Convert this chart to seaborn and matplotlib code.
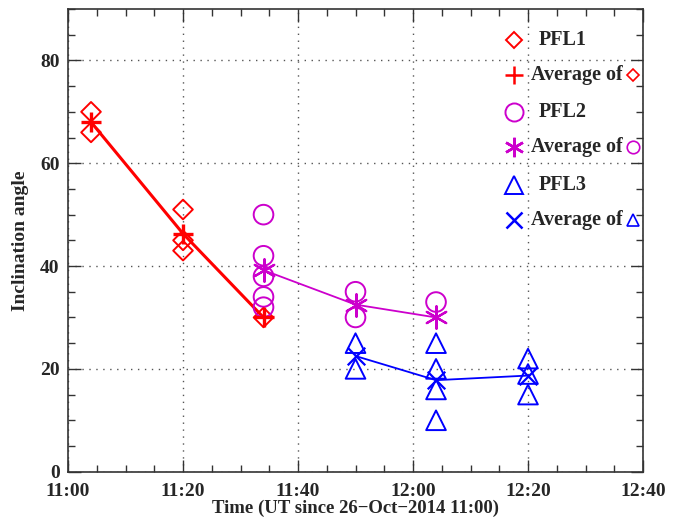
import numpy as np
import pandas as pd
import matplotlib
matplotlib.use("Agg")
import matplotlib.pyplot as plt
from matplotlib.ticker import MultipleLocator, FixedLocator, FixedFormatter
import seaborn as sns

# minutes since 11:00 UT
pfl1_t = [4, 4, 20, 20, 20, 34]
pfl1_v = [70, 66, 51, 45, 43, 30]
avg1_t = [4, 20, 34]
avg1_v = [68, 46.3, 30]

pfl2_t = [34, 34, 34, 34, 34, 50, 50, 64]
pfl2_v = [50, 42, 38, 34, 32, 35, 30, 33]
avg2_t = [34, 50, 64]
avg2_v = [39.2, 32.5, 30]

pfl3_t = [50, 50, 64, 64, 64, 64, 80, 80, 80]
pfl3_v = [25, 20, 25, 20, 16, 10, 22, 19, 15]
avg3_t = [50, 64, 80]
avg3_v = [22.5, 17.8, 18.7]

tick_pos = [0, 20, 40, 60, 80, 100]
tick_lab = ["11:00", "11:20", "11:40", "12:00", "12:20", "12:40"]

RED = "#ff0000"
MAG = "#cc00cc"
BLUE = "#0000ff"
ASTER = (6, 2, 0)

sns.set_style("ticks")
plt.rcParams["font.family"] = ["Liberation Serif", "DejaVu Serif"]
plt.rcParams["font.weight"] = "bold"
plt.rcParams["mathtext.default"] = "regular"

fig = plt.figure(figsize=(6.85, 5.2), dpi=100)
ax = fig.add_axes([0.0993, 0.0929, 0.8394, 0.8898])

# averages: connecting lines
sns.lineplot(x=avg1_t, y=avg1_v, ax=ax, color=RED, lw=2.2, estimator=None)
sns.lineplot(x=avg2_t, y=avg2_v, ax=ax, color=MAG, lw=1.3, estimator=None)
sns.lineplot(x=avg3_t, y=avg3_v, ax=ax, color=BLUE, lw=1.3, estimator=None)

# averages: symbols
sns.scatterplot(x=avg1_t, y=avg1_v, ax=ax, marker="+", s=220, color=RED,
                linewidth=2.4, zorder=4)
sns.scatterplot(x=avg2_t, y=avg2_v, ax=ax, marker=ASTER, s=260, color=MAG,
                edgecolor=MAG, linewidth=1.6, zorder=4)
sns.scatterplot(x=avg3_t, y=avg3_v, ax=ax, marker="x", s=160, color=BLUE,
                linewidth=1.6, zorder=4)

# individual measurements
sns.scatterplot(x=pfl1_t, y=pfl1_v, ax=ax, marker="D", s=100,
                facecolor="none", edgecolor=RED, linewidth=1.4, zorder=3)
sns.scatterplot(x=pfl2_t, y=pfl2_v, ax=ax, marker="o", s=200,
                facecolor="none", edgecolor=MAG, linewidth=1.4, zorder=3)
sns.scatterplot(x=pfl3_t, y=pfl3_v, ax=ax, marker="^", s=200,
                facecolor="none", edgecolor=BLUE, linewidth=1.4, zorder=3)

ax.set_xlim(0, 100)
ax.set_ylim(0, 90)
ax.xaxis.set_major_locator(FixedLocator(tick_pos))
ax.xaxis.set_major_formatter(FixedFormatter(tick_lab))
ax.xaxis.set_minor_locator(MultipleLocator(5))
ax.yaxis.set_major_locator(MultipleLocator(20))
ax.yaxis.set_minor_locator(MultipleLocator(5))
ax.tick_params(which="both", direction="in", top=True, right=True,
               labelsize=14, width=1, color="#333333")
ax.tick_params(which="major", length=9, pad=6)
ax.tick_params(axis="x", which="major", pad=8)
ax.tick_params(which="minor", length=5)
for lab in ax.get_xticklabels() + ax.get_yticklabels():
    lab.set_fontweight("bold")
for sp in ax.spines.values():
    sp.set_linewidth(1.2)
    sp.set_color("#333333")

ax.grid(True, which="major", color="#555555", lw=1.0, ls=(0, (1, 4)))

ax.set_xlabel("Time (UT since 26\u2212Oct\u22122014 11:00)", fontsize=13.5,
              fontweight="bold", labelpad=0)
ax.set_ylabel("Inclination angle", fontsize=14, fontweight="bold", labelpad=8)

# hand-made legend, as in the original
tr = ax.transAxes
rows = [
    (0.932, "D", RED, 8, "PFL1", None),
    (0.857, "+", RED, 13, "Average of", "D"),
    (0.778, "o", MAG, 13, "PFL2", None),
    (0.702, ASTER, MAG, 14, "Average of", "o"),
    (0.620, "^", BLUE, 13, "PFL3", None),
    (0.545, "x", BLUE, 11, "Average of", "^"),
]
for y, m, c, ms, txt, small in rows:
    filled = m in ("+", "x", ASTER)
    ax.plot([0.776], [y], transform=tr, marker=m, ms=ms, mew=1.8 if filled else 1.4,
            mec=c, mfc="none", color=c, ls="none", clip_on=False)
    if small is None:
        ax.text(0.819, y, txt, transform=tr, fontsize=14.5, fontweight="bold",
                va="center", ha="left")
    else:
        ax.text(0.805, y, txt, transform=tr, fontsize=14.5, fontweight="bold",
                va="center", ha="left")
        sms = 6 if small == "D" else 9
        ax.plot([0.983], [y], transform=tr, marker=small, ms=sms, mew=1.2,
                mec=c, mfc="none", ls="none", clip_on=False)

fig.savefig("out.png", dpi=100)
